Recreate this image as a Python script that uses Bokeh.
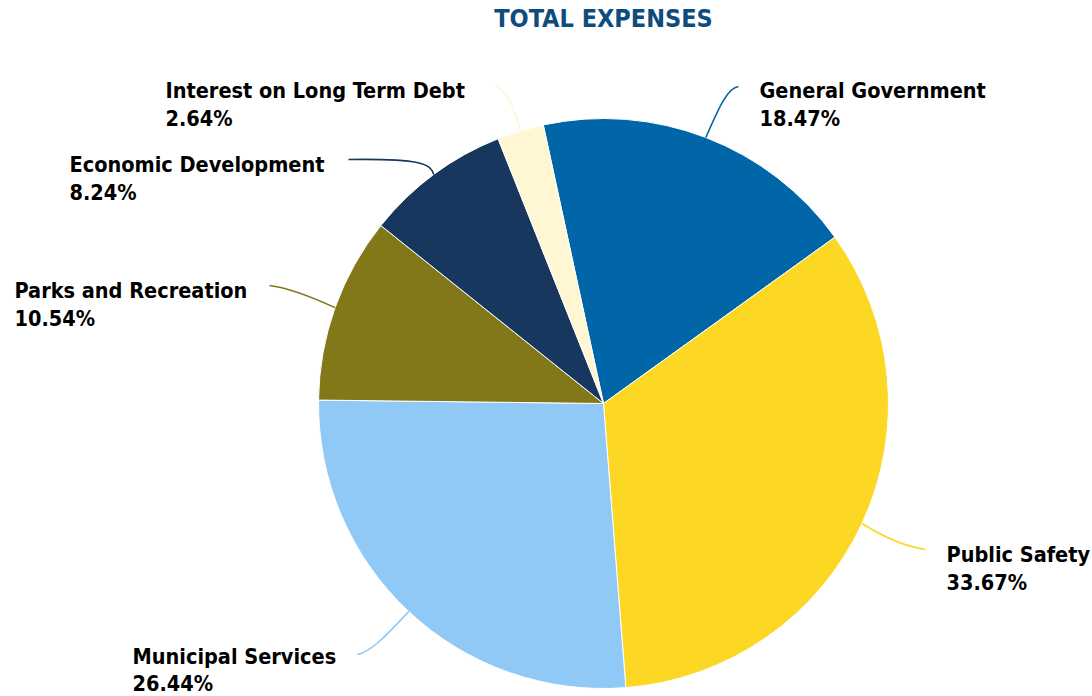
import math
from bokeh.plotting import figure
from bokeh.models import Range1d
from bokeh.core.properties import value
from bokeh.embed import file_html
from bokeh.resources import INLINE

# ---- data ----
title_text = "TOTAL EXPENSES"
categories = ["General Government", "Public Safety", "Municipal Services",
              "Parks and Recreation", "Economic Development", "Interest on Long Term Debt"]
percents = [18.47, 33.67, 26.44, 10.54, 8.24, 2.64]
colors = ["#0066A8", "#FCD723", "#90C9F6", "#827719", "#17375E", "#FFF7D3"]

# ---- layout (screen px of the page) ----
W, H = 1092, 696
def sx(x):
    return x
def sy(y):
    return H - y

CX, CY, R = 603, 403, 285
START_DEG = -12.2  # clockwise from 12 o'clock

# label layout: (left x, baseline line1, baseline line2)
label_pos = {
    "General Government": (759, 90, 118),
    "Public Safety": (946, 554, 582),
    "Municipal Services": (132, 656, 683),
    "Parks and Recreation": (14, 290, 318),
    "Economic Development": (69, 164, 192),
    "Interest on Long Term Debt": (165, 90, 118),
}
# leader line layout: control point 1, control point 2, end point
leader_pos = {
    "General Government": ((718, 108), (727, 87), (738, 86)),
    "Public Safety": ((882, 536), (905, 546), (925, 549)),
    "Municipal Services": ((390, 630), (372, 651), (357, 654)),
    "Parks and Recreation": ((310, 296), (287, 287), (269, 285)),
    "Economic Development": ((430, 163), (420, 158), (348, 159)),
    "Interest on Long Term Debt": ((515, 108), (505, 89), (494, 85)),
}

FONT = value("DejaVu Sans Condensed, DejaVu Sans")
LABEL_SIZE = "21.5px"

p = figure(width=W, height=H, x_range=Range1d(0, W), y_range=Range1d(0, H),
           output_backend="svg", toolbar_location=None, min_border=0)
p.axis.visible = False
p.grid.visible = False
p.outline_line_color = None
p.background_fill_color = "white"

total = sum(percents)
theta = START_DEG
for cat, pct, col in zip(categories, percents, colors):
    span = pct / total * 360.0
    t0, t1 = theta, theta + span
    p.wedge(x=sx(CX), y=sy(CY), radius=R,
            start_angle=math.radians(90 - t0), end_angle=math.radians(90 - t1),
            direction="clock", fill_color=col, line_color="white", line_width=1)
    mid = math.radians((t0 + t1) / 2)
    x0 = CX + R * math.sin(mid)
    y0 = CY - R * math.cos(mid)
    (c0, c1, e) = leader_pos[cat]
    p.bezier(x0=sx(x0), y0=sy(y0), cx0=sx(c0[0]), cy0=sy(c0[1]),
             cx1=sx(c1[0]), cy1=sy(c1[1]), x1=sx(e[0]), y1=sy(e[1]),
             line_color=col, line_width=1.6)
    lx, b1, b2 = label_pos[cat]
    p.text(x=[sx(lx)], y=[sy(b1)], text=[cat], text_font=FONT, text_font_style="bold",
           text_font_size=LABEL_SIZE, text_color="#000000", text_baseline="alphabetic",
           text_align="left")
    p.text(x=[sx(lx)], y=[sy(b2)], text=[f"{pct:.2f}%"], text_font=FONT,
           text_font_style="bold", text_font_size=LABEL_SIZE, text_color="#000000",
           text_baseline="alphabetic", text_align="left")
    theta = t1

p.text(x=[sx(603)], y=[sy(18)], text=[title_text], text_font=FONT, text_font_style="bold",
       text_font_size="25px", text_color="#0E4C7E", text_baseline="alphabetic",
       text_align="center")

open("out.html", "w").write(file_html(p, INLINE))
